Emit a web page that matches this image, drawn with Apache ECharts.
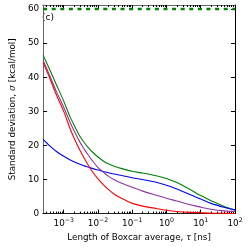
<!DOCTYPE html>
<html><head><meta charset="utf-8">
<script src="https://cdn.jsdelivr.net/npm/echarts@6/dist/echarts.min.js"></script>
<style>html,body{margin:0;padding:0;background:#fff}#c{width:249px;height:247px}</style>
</head><body><div id="c"></div>
<script>
// Boxcar length tau [ns]
const tau = [2.5e-4, 4e-4, 6e-4, 1e-3, 1.5e-3, 2e-3, 3e-3, 4e-3, 5e-3, 7e-3, 1e-2, 1.5e-2, 2e-2, 3e-2, 5e-2, 0.1, 0.2, 0.5, 1, 2, 5, 10, 20, 50, 100];
// Standard deviation sigma [kcal/mol]
const sigmaGreen  = [46.5, 42.0, 38.0, 33.0, 28.6, 26.0, 22.6, 20.8, 19.6, 18.0, 16.6, 15.3, 14.6, 13.9, 13.2, 12.4, 11.9, 11.1, 10.3, 9.1, 7.0, 5.3, 3.8, 2.0, 1.1];
const sigmaBlue   = [21.8, 19.8, 18.3, 16.8, 15.8, 15.2, 14.5, 14.0, 13.7, 13.2, 12.8, 12.3, 12.0, 11.6, 11.2, 10.5, 10.0, 9.2, 8.3, 7.2, 5.5, 4.3, 3.0, 1.8, 1.1];
const sigmaPurple = [45.0, 40.2, 36.0, 31.2, 27.0, 24.3, 20.9, 18.9, 17.4, 15.4, 13.5, 12.0, 11.0, 9.9, 8.9, 7.7, 6.6, 5.4, 4.5, 3.7, 2.6, 1.9, 1.3, 0.8, 0.6];
const sigmaRed    = [44.3, 39.5, 35.0, 30.0, 25.2, 22.2, 18.5, 16.2, 14.5, 12.2, 10.2, 8.3, 7.1, 5.7, 4.4, 3.0, 2.2, 1.5, 1.0, 0.6, 0.35, 0.25, 0.15, 0.1, 0.05];
const refLevel = 60;
const xRange = [2.5e-4, 100];
const yRange = [0, 61.2];
const yTicks = [0, 10, 20, 30, 40, 50, 60];
const xMajor = [1e-3, 1e-2, 1e-1, 1, 10, 100];
const xMajorExp = ['−3', '−2', '−1', '0', '1', '2'];
const minorMult = [2, 3, 4, 5, 6, 7, 8, 9];
const xMinor = [];
for (let e = -4; e <= 1; e++) for (const m of minorMult) {
  const v = m * Math.pow(10, e);
  if (v >= xRange[0] && v <= xRange[1]) xMinor.push(v);
}

const FONT = 'DejaVu Sans';
const chart = echarts.init(document.getElementById('c'), null, {renderer: 'canvas'});
const pairs = arr => tau.map((t, i) => [t, arr[i]]);
function xAxisBase(pos, color) {
  return {type: 'log', logBase: 10, min: xRange[0], max: xRange[1], position: pos, gridIndex: 0,
    splitLine: {show: false}, minorTick: {show: false}, minorSplitLine: {show: false},
    axisLine: {show: true, lineStyle: {color: color, width: 1}}};
}
const curve = (arr, color) => ({type: 'line', data: pairs(arr), showSymbol: false, symbol: 'none',
  smooth: 0.3, lineStyle: {color: color, width: 1.1}});
const option = {
  animation: false,
  backgroundColor: '#fff',
  grid: {left: 32, right: 14, top: 5, bottom: 31, containLabel: false},
  xAxis: [
    Object.assign(xAxisBase('bottom', '#222'), {
      name: 'Length of Boxcar average, {i|τ} [ns]', nameLocation: 'middle', nameGap: 16,
      nameTextStyle: {fontFamily: FONT, fontSize: 8.8, color: '#000', rich: {i: {fontFamily: 'DejaVu Serif', fontStyle: 'italic', fontSize: 8.8}}},
      axisTick: {show: true, inside: true, length: 4, customValues: xMajor, lineStyle: {color: '#000'}},
      axisLabel: {show: true, margin: 4, customValues: xMajor, fontFamily: FONT, color: '#000',
        formatter: v => { const i = xMajor.findIndex(x => Math.abs(Math.log10(x) - Math.log10(v)) < 1e-6); return '{b|10}{s|' + (i >= 0 ? xMajorExp[i] : '') + '}'; },
        rich: {b: {fontSize: 8.8, fontFamily: FONT}, s: {fontSize: 6.2, fontFamily: FONT, padding: [0, 0, 6, 0]}}}
    }),
    Object.assign(xAxisBase('bottom', '#222'), {
      axisTick: {show: true, inside: true, length: 2, customValues: xMinor, lineStyle: {color: '#000'}},
      axisLabel: {show: false}
    }),
    Object.assign(xAxisBase('top', '#666'), {
      axisTick: {show: true, inside: true, length: 4, customValues: xMajor, lineStyle: {color: '#000'}},
      axisLabel: {show: false}
    }),
    Object.assign(xAxisBase('top', '#666'), {
      axisTick: {show: true, inside: true, length: 2, customValues: xMinor, lineStyle: {color: '#000'}},
      axisLabel: {show: false}
    })
  ],
  yAxis: [
    {type: 'value', min: yRange[0], max: yRange[1], position: 'left',
      name: 'Standard deviation, {i|σ} [kcal/mol]', nameLocation: 'middle', nameGap: 19, nameRotate: 90,
      nameTextStyle: {fontFamily: FONT, fontSize: 8.8, color: '#000', rich: {i: {fontFamily: 'DejaVu Serif', fontStyle: 'italic', fontSize: 8.8}}},
      splitLine: {show: false},
      axisLine: {show: true, lineStyle: {color: '#666', width: 1}},
      axisTick: {show: true, inside: true, length: 4, customValues: yTicks, lineStyle: {color: '#000'}},
      axisLabel: {show: true, customValues: yTicks, margin: 4, fontFamily: FONT, fontSize: 8.8, color: '#000'}
    },
    {type: 'value', min: yRange[0], max: yRange[1], position: 'right',
      splitLine: {show: false},
      axisLine: {show: true, lineStyle: {color: '#000', width: 1}},
      axisTick: {show: true, inside: true, length: 4, customValues: yTicks, lineStyle: {color: '#000'}},
      axisLabel: {show: false}
    }
  ],
  graphic: [{type: 'text', left: 42, top: 13, style: {text: '(c)', fontFamily: FONT, fontSize: 9, fill: '#000'}}],
  series: [
    {type: 'line', data: [[xRange[0], refLevel], [xRange[1], refLevel]], showSymbol: false, symbol: 'none',
      lineStyle: {color: '#008000', width: 2.5, type: [4, 4.6]}, z: 5},
    curve(sigmaGreen, '#008000'),
    curve(sigmaBlue, '#0000ff'),
    curve(sigmaPurple, '#8e35a0'),
    curve(sigmaRed, '#ff0000')
  ]
};
chart.setOption(option);
</script>
</body></html>
